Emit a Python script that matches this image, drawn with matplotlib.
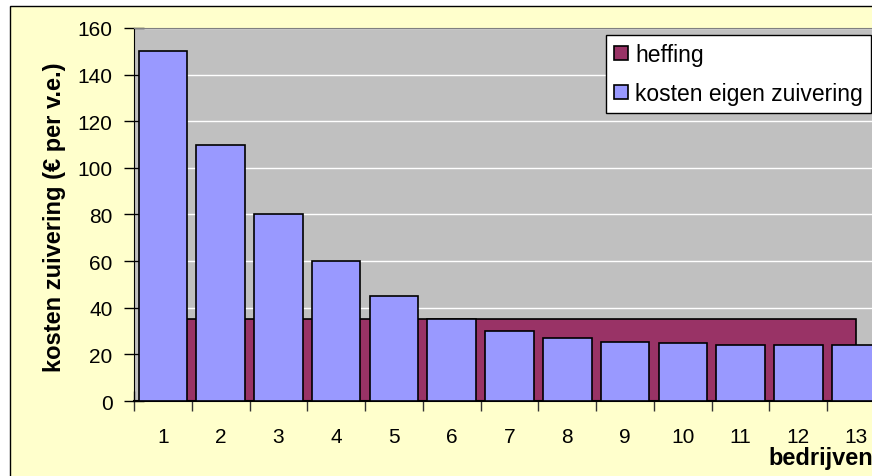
import matplotlib
matplotlib.use("Agg")
import matplotlib.pyplot as plt
from matplotlib.patches import Rectangle, Patch
from matplotlib import font_manager as fm
import numpy as np


def find_font(bold):
    for f in fm.fontManager.ttflist:
        fn = f.fname.lower()
        if 'liberationsans' in fn.replace(' ', '').replace('-', '') and 'narrow' not in fn:
            is_bold = 'bold' in fn
            is_italic = 'italic' in fn
            if is_bold == bold and not is_italic:
                return f.fname
    return None


reg_path = find_font(False)
bold_path = find_font(True)


def fp(size, bold=False):
    path = bold_path if bold else reg_path
    if path:
        return fm.FontProperties(fname=path, size=size)
    return fm.FontProperties(family='DejaVu Sans', size=size, weight='bold' if bold else 'normal')


categories = [str(i) for i in range(1, 14)]
kosten_eigen = [150, 110, 80, 60, 45, 35, 30, 27, 25.5, 25, 24, 24, 24]
heffing = [35] * 12          # levy, drawn between company i and i+1
y_ticks = [0, 20, 40, 60, 80, 100, 120, 140, 160]

W, H = 872, 477
fig = plt.figure(figsize=(W / 100, H / 100), dpi=100, facecolor='white')

# chart area background
fig.patches.append(Rectangle((10 / W, -0.1), 1.2, 1.1 - 7 / H, transform=fig.transFigure,
                             facecolor='#FFFFCC', edgecolor='black', linewidth=1.0, zorder=-10))

left, right, bottom, top = 134, 885, 402, 29
ax = fig.add_axes([left / W, 1 - bottom / H, (right - left) / W, (bottom - top) / H])
ax.set_zorder(1)
ax.set_facecolor('#C0C0C0')

x = np.arange(1, len(categories) + 1)
h_edges = np.arange(1, len(heffing) + 2)

ax.stairs(heffing, h_edges, baseline=0, fill=True, facecolor='#993366',
          edgecolor='black', linewidth=1.2, zorder=2, label='heffing')
ax.bar(x, kosten_eigen, width=0.84, color='#9999FF', edgecolor='black',
       linewidth=1.2, zorder=3, label='kosten eigen zuivering')

ax.set_xlim(0.5, len(categories) + 0.5)
ax.set_ylim(0, 160)
ax.set_yticks(y_ticks)
ax.set_yticklabels([str(v) for v in y_ticks], fontproperties=fp(15))
ax.set_xticks(x)
ax.set_xticklabels(categories, fontproperties=fp(15))
ax.set_xticks(np.arange(0.5, len(categories) + 1, 1.0), minor=True)
ax.tick_params(axis='x', which='major', length=0, pad=19)
ax.tick_params(axis='x', which='minor', length=14, direction='inout', width=1, color='#333333')
ax.tick_params(axis='y', which='major', length=14, direction='inout', width=1, pad=8.5)

ax.yaxis.grid(True, color='white', linewidth=1)
ax.set_axisbelow(True)
for s in ['top', 'right']:
    ax.spines[s].set_color('#808080')
ax.spines['left'].set_color('black')
ax.spines['bottom'].set_color('black')
ax.spines['bottom'].set_linewidth(1.5)

fig.text(54 / W, 1 - 217.5 / H, 'kosten zuivering (€ per v.e.)', rotation=90,
         ha='center', va='center', fontproperties=fp(17, True))
fig.text(768 / W, 1 - 465 / H, 'bedrijven', ha='left', va='baseline',
         fontproperties=fp(17, True))

handles = [Patch(facecolor='#993366', edgecolor='black', linewidth=1.2),
           Patch(facecolor='#9999FF', edgecolor='black', linewidth=1.2)]
leg = fig.legend(handles, ['heffing', 'kosten eigen zuivering'],
                 loc='upper left', bbox_to_anchor=(606 / W, 1 - 36 / H),
                 bbox_transform=fig.transFigure, prop=fp(16.5), frameon=True,
                 fancybox=False, borderpad=0.36, labelspacing=0.68,
                 handlelength=0.61, handleheight=0.58, handletextpad=0.3,
                 borderaxespad=0)
leg.set_zorder(5)
leg.get_frame().set_edgecolor('black')
leg.get_frame().set_linewidth(1.0)
leg.get_frame().set_facecolor('white')
leg.get_frame().set_alpha(1)

fig.savefig('out.png', dpi=100, facecolor='white')
